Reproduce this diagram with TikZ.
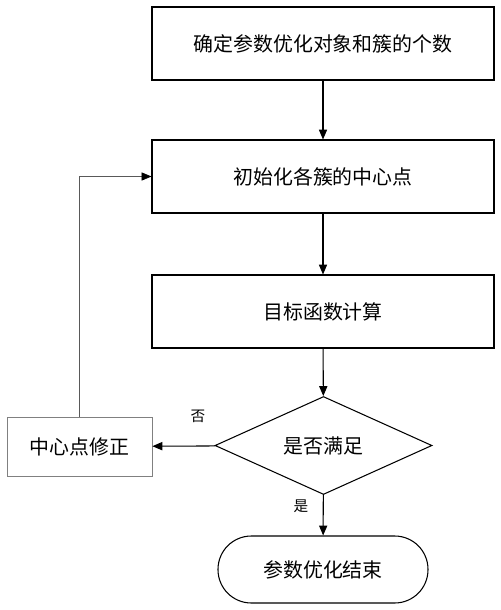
\documentclass[tikz,border=0pt]{standalone}
\usepackage{fontspec}
\setmainfont{Noto Sans CJK SC}
\usetikzlibrary{shapes.geometric,arrows.meta}

\begin{document}
\begin{tikzpicture}[x=0.03cm,y=0.03cm]
    \tikzstyle{every node}+=[inner sep=0pt, font=\fontsize{17}{20}\selectfont]
    \tikzstyle{box}=[draw, line width=0.9pt, minimum width=10.26cm, minimum height=2.19cm]
    \tikzstyle{arr}=[line width=0.9pt, -{Triangle[length=8.5pt,width=7pt]}]
    \useasboundingbox (0,0) rectangle (501,-610);
    \node [box] (count) at (323,-43.5) {确定参数优化对象和簇的个数};
    \node [box] (init) at (323,-176.5) {初始化各簇的中心点};
    \node [box] (obj) at (323,-311.5) {目标函数计算};
    \node [draw, diamond, line width=0.9pt, minimum width=6.51cm, minimum height=2.61cm] (check) at (323.5,-445.5) {是否满足};
    \node [draw=gray, line width=0.6pt, minimum width=4.35cm, minimum height=1.77cm] (fix) at (79.5,-446.5) {中心点修正};
    \node [draw, line width=0.9pt, rounded corners=1cm, minimum width=6.3cm, minimum height=2.01cm] (done) at (323,-569.5) {参数优化结束};
    \draw [arr] (count) -- (init);
    \draw [arr] (init) -- (obj);
    \draw [arr] (obj) -- (check);
    \draw [arr] (check) -- (fix);
    \draw [arr] (check) -- (done);
    \draw [gray!70!black, line width=0.6pt, -{Triangle[length=8.5pt,width=7pt,color=black]}] (fix.north) |- (init.west);
    \draw (198,-416) node [font=\fontsize{12.5}{14}\selectfont] {否};
    \draw (301,-506) node [font=\fontsize{12.5}{14}\selectfont] {是};
\end{tikzpicture}
\end{document}
